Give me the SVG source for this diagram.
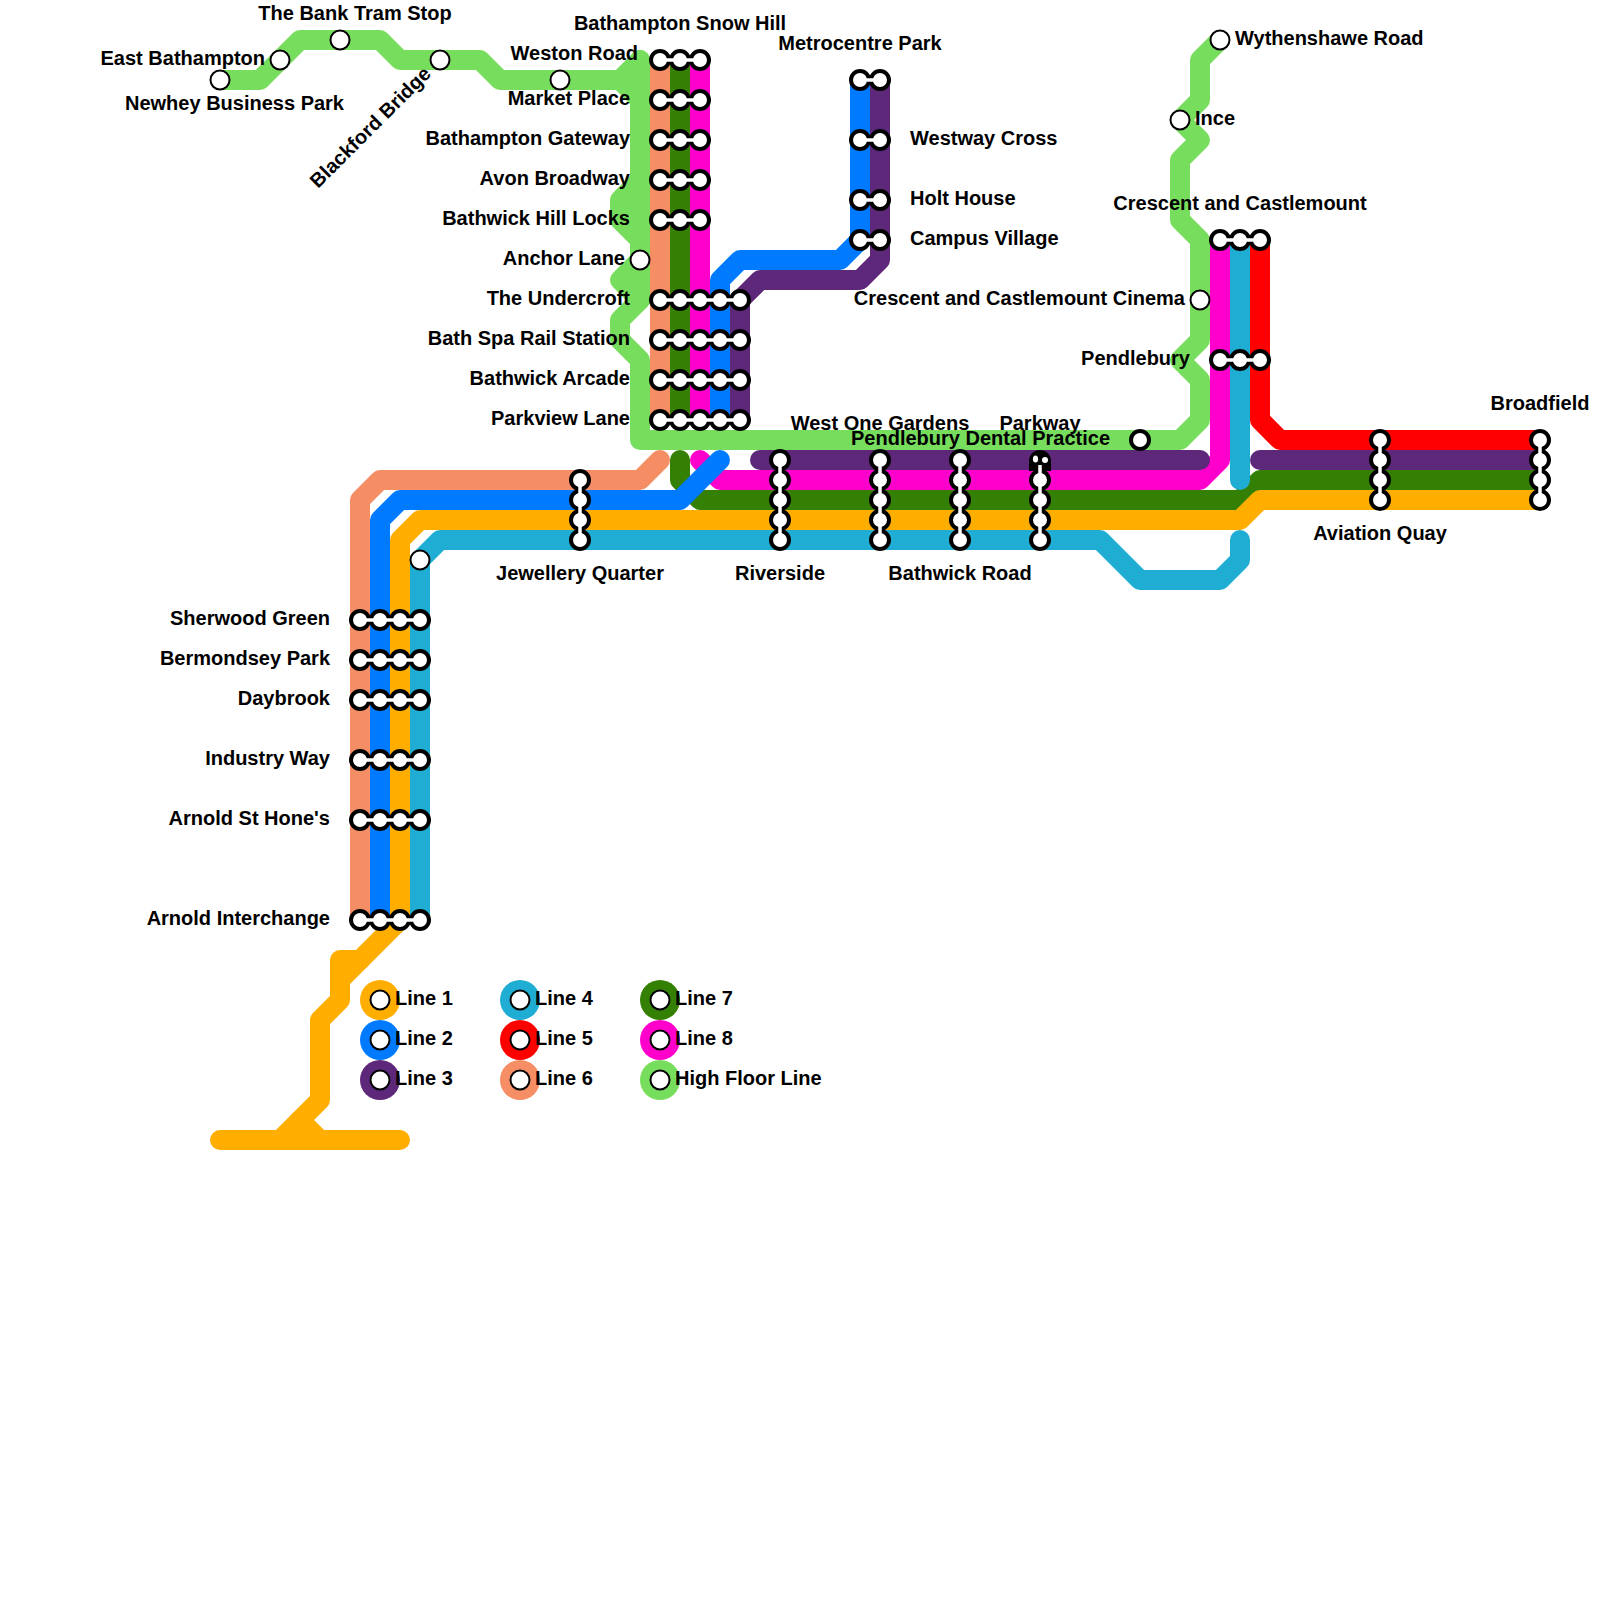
<svg xmlns="http://www.w3.org/2000/svg" width="1600" height="1600" viewBox="0 0 1600 1600">
<style>
text{font-family:"Liberation Sans",Arial,sans-serif;font-weight:700;font-size:20px;fill:#000}
.e{text-anchor:end}.m{text-anchor:middle}
.l{fill:none;stroke-width:20;stroke-linecap:round;stroke-linejoin:round}
.l1{stroke:#ffae00}.l2{stroke:#007aff}.l3{stroke:#5d277a}.l4{stroke:#1fadd3}.l5{stroke:#f00}.l6{stroke:#f58e64}.l7{stroke:#338005}.l8{stroke:#f0c}.hf{stroke:#77dd5d}
.s{fill:#fff;stroke:#000;stroke-width:2}
.sb{fill:#fff;stroke:#000;stroke-width:4}
.b{stroke:#000;stroke-width:8;fill:none}
.w{stroke:#fff;stroke-width:3.5;fill:none}
.o{fill:#000}.i{fill:#fff}
</style>
<rect width="1600" height="1600" fill="#fff"/>
<g id="connectors">
<path class="l l8" d="M700 60V420"/>
<path class="l l8" d="M700 460L720 480H1200L1220 460V240"/>
<path class="l l7" d="M680 60V420"/>
<path class="l l7" d="M680 460V480L700 500H1240L1260 480H1540"/>
<path class="l l6" d="M660 60V420"/>
<path class="l l6" d="M660 460L640 480H380L360 500V920"/>
<path class="l l5" d="M1260 240V420L1280 440H1540"/>
<path class="l l4" d="M1240 240V480"/>
<path class="l l4" d="M420 920V560L440 540H1100L1140 580H1220L1240 560V540"/>
<path class="l l3" d="M880 80V260L860 280H760L740 300V420"/>
<path class="l l3" d="M760 460H1200"/>
<path class="l l3" d="M1260 460H1540"/>
<path class="l l2" d="M860 80V240L840 260H740L720 280V420"/>
<path class="l l2" d="M720 460L680 500H400L380 520V920"/>
<path class="l l1" d="M1540 500H1260L1240 520H420L400 540V920L340 980"/>
<path class="l l1" d="M360 960H340V1000L320 1020V1100L280 1140"/>
<path class="l l1" d="M300 1120L320 1140"/>
<path class="l l1" d="M220 1140H400"/>
<path class="l hf" d="M220 80H260L300 40H380L400 60H480L500 80H620L640 60V180L620 200V220L640 240V260L620 280L640 300L620 320V340L640 360V440H1180L1200 420V380L1180 360L1200 340V240L1180 220V160L1200 140L1180 120L1200 100V60L1220 40"/>
<path class="l hf" d="M620 80L640 100"/>
<path class="l hf" d="M640 60V300"/>
</g>
<g id="legend">
<g id="legend-1"><circle cx="380" cy="1000" r="20" fill="#ffae00"/><circle cx="380" cy="1000" r="9.5" class="s"/><text x="395" y="1005">Line 1</text></g>
<g id="legend-2"><circle cx="380" cy="1040" r="20" fill="#007aff"/><circle cx="380" cy="1040" r="9.5" class="s"/><text x="395" y="1045">Line 2</text></g>
<g id="legend-3"><circle cx="380" cy="1080" r="20" fill="#5d277a"/><circle cx="380" cy="1080" r="9.5" class="s"/><text x="395" y="1085">Line 3</text></g>
<g id="legend-4"><circle cx="520" cy="1000" r="20" fill="#1fadd3"/><circle cx="520" cy="1000" r="9.5" class="s"/><text x="535" y="1005">Line 4</text></g>
<g id="legend-5"><circle cx="520" cy="1040" r="20" fill="#f00"/><circle cx="520" cy="1040" r="9.5" class="s"/><text x="535" y="1045">Line 5</text></g>
<g id="legend-6"><circle cx="520" cy="1080" r="20" fill="#f58e64"/><circle cx="520" cy="1080" r="9.5" class="s"/><text x="535" y="1085">Line 6</text></g>
<g id="legend-7"><circle cx="660" cy="1000" r="20" fill="#338005"/><circle cx="660" cy="1000" r="9.5" class="s"/><text x="675" y="1005">Line 7</text></g>
<g id="legend-8"><circle cx="660" cy="1040" r="20" fill="#f0c"/><circle cx="660" cy="1040" r="9.5" class="s"/><text x="675" y="1045">Line 8</text></g>
<g id="legend-hf"><circle cx="660" cy="1080" r="20" fill="#77dd5d"/><circle cx="660" cy="1080" r="9.5" class="s"/><text x="675" y="1085">High Floor Line</text></g>
</g>
<g id="n-newhey"><circle cx="220" cy="80" r="9.5" class="s"/><text x="344" y="110" class="e">Newhey Business Park</text></g>
<g id="n-east-bathampton"><circle cx="280" cy="60" r="9.5" class="s"/><text x="265" y="65" class="e">East Bathampton</text></g>
<g id="n-bank"><circle cx="340" cy="40" r="9.5" class="s"/><text x="355" y="20" class="m">The Bank Tram Stop</text></g>
<g id="n-blackford"><circle cx="440" cy="60" r="9.5" class="s"/><text x="432" y="75" class="e" transform="rotate(-45 432 75)">Blackford Bridge</text></g>
<g id="n-weston"><circle cx="560" cy="80" r="9.5" class="s"/><text x="638" y="60" class="e">Weston Road</text></g>
<g id="n-anchor"><circle cx="640" cy="260" r="9.5" class="s"/><text x="625" y="265" class="e">Anchor Lane</text></g>
<g id="n-cinema"><circle cx="1200" cy="300" r="9.5" class="s"/><text x="1185" y="305" class="e">Crescent and Castlemount Cinema</text></g>
<g id="n-wythenshawe"><circle cx="1220" cy="40" r="9.5" class="s"/><text x="1235" y="45">Wythenshawe Road</text></g>
<g id="n-ince"><circle cx="1180" cy="120" r="9.5" class="s"/><text x="1195" y="125">Ince</text></g>
<g id="n-unnamed"><circle cx="420" cy="560" r="9.5" class="s"/></g>
<g id="n-dental"><circle cx="1140" cy="440" r="9" class="sb"/><text x="1110" y="445" class="e">Pendlebury Dental Practice</text></g>

<g id="n-snow-hill"><path class="b" d="M660 60H700"/><circle cx="660" cy="60" r="9" class="sb"/><circle cx="680" cy="60" r="9" class="sb"/><circle cx="700" cy="60" r="9" class="sb"/><path class="w" d="M660 60H700"/><text x="680" y="30" class="m">Bathampton Snow Hill</text></g>
<g id="n-market"><path class="b" d="M660 100H700"/><circle cx="660" cy="100" r="9" class="sb"/><circle cx="680" cy="100" r="9" class="sb"/><circle cx="700" cy="100" r="9" class="sb"/><path class="w" d="M660 100H700"/><text x="630" y="105" class="e">Market Place</text></g>
<g id="n-gateway"><path class="b" d="M660 140H700"/><circle cx="660" cy="140" r="9" class="sb"/><circle cx="680" cy="140" r="9" class="sb"/><circle cx="700" cy="140" r="9" class="sb"/><path class="w" d="M660 140H700"/><text x="630" y="145" class="e">Bathampton Gateway</text></g>
<g id="n-avon"><path class="b" d="M660 180H700"/><circle cx="660" cy="180" r="9" class="sb"/><circle cx="680" cy="180" r="9" class="sb"/><circle cx="700" cy="180" r="9" class="sb"/><path class="w" d="M660 180H700"/><text x="630" y="185" class="e">Avon Broadway</text></g>
<g id="n-locks"><path class="b" d="M660 220H700"/><circle cx="660" cy="220" r="9" class="sb"/><circle cx="680" cy="220" r="9" class="sb"/><circle cx="700" cy="220" r="9" class="sb"/><path class="w" d="M660 220H700"/><text x="630" y="225" class="e">Bathwick Hill Locks</text></g>

<g id="n-undercroft"><path class="b" d="M660 300H740"/><circle cx="660" cy="300" r="9" class="sb"/><circle cx="680" cy="300" r="9" class="sb"/><circle cx="700" cy="300" r="9" class="sb"/><circle cx="720" cy="300" r="9" class="sb"/><circle cx="740" cy="300" r="9" class="sb"/><path class="w" d="M660 300H740"/><text x="630" y="305" class="e">The Undercroft</text></g>
<g id="n-bathspa"><path class="b" d="M660 340H740"/><circle cx="660" cy="340" r="9" class="sb"/><circle cx="680" cy="340" r="9" class="sb"/><circle cx="700" cy="340" r="9" class="sb"/><circle cx="720" cy="340" r="9" class="sb"/><circle cx="740" cy="340" r="9" class="sb"/><path class="w" d="M660 340H740"/><text x="630" y="345" class="e">Bath Spa Rail Station</text></g>
<g id="n-arcade"><path class="b" d="M660 380H740"/><circle cx="660" cy="380" r="9" class="sb"/><circle cx="680" cy="380" r="9" class="sb"/><circle cx="700" cy="380" r="9" class="sb"/><circle cx="720" cy="380" r="9" class="sb"/><circle cx="740" cy="380" r="9" class="sb"/><path class="w" d="M660 380H740"/><text x="630" y="385" class="e">Bathwick Arcade</text></g>
<g id="n-parkview"><path class="b" d="M660 420H740"/><circle cx="660" cy="420" r="9" class="sb"/><circle cx="680" cy="420" r="9" class="sb"/><circle cx="700" cy="420" r="9" class="sb"/><circle cx="720" cy="420" r="9" class="sb"/><circle cx="740" cy="420" r="9" class="sb"/><path class="w" d="M660 420H740"/><text x="630" y="425" class="e">Parkview Lane</text></g>

<g id="n-metrocentre"><path class="b" d="M860 80H880"/><circle cx="860" cy="80" r="9" class="sb"/><circle cx="880" cy="80" r="9" class="sb"/><path class="w" d="M860 80H880"/><text x="860" y="50" class="m">Metrocentre Park</text></g>
<g id="n-westway"><path class="b" d="M860 140H880"/><circle cx="860" cy="140" r="9" class="sb"/><circle cx="880" cy="140" r="9" class="sb"/><path class="w" d="M860 140H880"/><text x="910" y="145">Westway Cross</text></g>
<g id="n-holt"><path class="b" d="M860 200H880"/><circle cx="860" cy="200" r="9" class="sb"/><circle cx="880" cy="200" r="9" class="sb"/><path class="w" d="M860 200H880"/><text x="910" y="205">Holt House</text></g>
<g id="n-campus"><path class="b" d="M860 240H880"/><circle cx="860" cy="240" r="9" class="sb"/><circle cx="880" cy="240" r="9" class="sb"/><path class="w" d="M860 240H880"/><text x="910" y="245">Campus Village</text></g>

<g id="n-crescent"><path class="b" d="M1220 240H1260"/><circle cx="1220" cy="240" r="9" class="sb"/><circle cx="1240" cy="240" r="9" class="sb"/><circle cx="1260" cy="240" r="9" class="sb"/><path class="w" d="M1220 240H1260"/><text x="1240" y="210" class="m">Crescent and Castlemount</text></g>
<g id="n-pendlebury"><path class="b" d="M1220 360H1260"/><circle cx="1220" cy="360" r="9" class="sb"/><circle cx="1240" cy="360" r="9" class="sb"/><circle cx="1260" cy="360" r="9" class="sb"/><path class="w" d="M1220 360H1260"/><text x="1190" y="365" class="e">Pendlebury</text></g>

<g id="n-sherwood"><path class="b" d="M360 620H420"/><circle cx="360" cy="620" r="9" class="sb"/><circle cx="380" cy="620" r="9" class="sb"/><circle cx="400" cy="620" r="9" class="sb"/><circle cx="420" cy="620" r="9" class="sb"/><path class="w" d="M360 620H420"/><text x="330" y="625" class="e">Sherwood Green</text></g>
<g id="n-bermondsey"><path class="b" d="M360 660H420"/><circle cx="360" cy="660" r="9" class="sb"/><circle cx="380" cy="660" r="9" class="sb"/><circle cx="400" cy="660" r="9" class="sb"/><circle cx="420" cy="660" r="9" class="sb"/><path class="w" d="M360 660H420"/><text x="330" y="665" class="e">Bermondsey Park</text></g>
<g id="n-daybrook"><path class="b" d="M360 700H420"/><circle cx="360" cy="700" r="9" class="sb"/><circle cx="380" cy="700" r="9" class="sb"/><circle cx="400" cy="700" r="9" class="sb"/><circle cx="420" cy="700" r="9" class="sb"/><path class="w" d="M360 700H420"/><text x="330" y="705" class="e">Daybrook</text></g>
<g id="n-industry"><path class="b" d="M360 760H420"/><circle cx="360" cy="760" r="9" class="sb"/><circle cx="380" cy="760" r="9" class="sb"/><circle cx="400" cy="760" r="9" class="sb"/><circle cx="420" cy="760" r="9" class="sb"/><path class="w" d="M360 760H420"/><text x="330" y="765" class="e">Industry Way</text></g>
<g id="n-arnold-st"><path class="b" d="M360 820H420"/><circle cx="360" cy="820" r="9" class="sb"/><circle cx="380" cy="820" r="9" class="sb"/><circle cx="400" cy="820" r="9" class="sb"/><circle cx="420" cy="820" r="9" class="sb"/><path class="w" d="M360 820H420"/><text x="330" y="825" class="e">Arnold St Hone's</text></g>
<g id="n-arnold-int"><path class="b" d="M360 920H420"/><circle cx="360" cy="920" r="9" class="sb"/><circle cx="380" cy="920" r="9" class="sb"/><circle cx="400" cy="920" r="9" class="sb"/><circle cx="420" cy="920" r="9" class="sb"/><path class="w" d="M360 920H420"/><text x="330" y="925" class="e">Arnold Interchange</text></g>

<g id="n-jewellery"><path class="b" d="M580 480V540"/><circle cx="580" cy="480" r="9" class="sb"/><circle cx="580" cy="500" r="9" class="sb"/><circle cx="580" cy="520" r="9" class="sb"/><circle cx="580" cy="540" r="9" class="sb"/><path class="w" d="M580 480V540"/><text x="580" y="580" class="m">Jewellery Quarter</text></g>
<g id="n-riverside"><path class="b" d="M780 460V540"/><circle cx="780" cy="460" r="9" class="sb"/><circle cx="780" cy="480" r="9" class="sb"/><circle cx="780" cy="500" r="9" class="sb"/><circle cx="780" cy="520" r="9" class="sb"/><circle cx="780" cy="540" r="9" class="sb"/><path class="w" d="M780 460V540"/><text x="780" y="580" class="m">Riverside</text></g>
<g id="n-west-one"><path class="b" d="M880 460V540"/><circle cx="880" cy="460" r="9" class="sb"/><circle cx="880" cy="480" r="9" class="sb"/><circle cx="880" cy="500" r="9" class="sb"/><circle cx="880" cy="520" r="9" class="sb"/><circle cx="880" cy="540" r="9" class="sb"/><path class="w" d="M880 460V540"/><text x="880" y="430" class="m">West One Gardens</text></g>
<g id="n-bathwick-road"><path class="b" d="M960 460V540"/><circle cx="960" cy="460" r="9" class="sb"/><circle cx="960" cy="480" r="9" class="sb"/><circle cx="960" cy="500" r="9" class="sb"/><circle cx="960" cy="520" r="9" class="sb"/><circle cx="960" cy="540" r="9" class="sb"/><path class="w" d="M960 460V540"/><text x="960" y="580" class="m">Bathwick Road</text></g>
<g id="n-parkway"><path class="b" d="M1040 480V540"/><path class="o" d="M1029 471V461A11 11 0 0 1 1051 461V471Z"/><circle cx="1040" cy="480" r="9" class="sb"/><circle cx="1040" cy="500" r="9" class="sb"/><circle cx="1040" cy="520" r="9" class="sb"/><circle cx="1040" cy="540" r="9" class="sb"/><path class="w" d="M1040 465V540"/><ellipse cx="1035.500" cy="459" rx="2.600" ry="3.500" class="i"/><ellipse cx="1045" cy="460" rx="3" ry="3" class="i"/><text x="1040" y="430" class="m">Parkway</text></g>
<g id="n-aviation"><path class="b" d="M1380 440V500"/><circle cx="1380" cy="440" r="9" class="sb"/><circle cx="1380" cy="460" r="9" class="sb"/><circle cx="1380" cy="480" r="9" class="sb"/><circle cx="1380" cy="500" r="9" class="sb"/><path class="w" d="M1380 440V500"/><text x="1380" y="540" class="m">Aviation Quay</text></g>
<g id="n-broadfield"><path class="b" d="M1540 440V500"/><circle cx="1540" cy="440" r="9" class="sb"/><circle cx="1540" cy="460" r="9" class="sb"/><circle cx="1540" cy="480" r="9" class="sb"/><circle cx="1540" cy="500" r="9" class="sb"/><path class="w" d="M1540 440V500"/><text x="1540" y="410" class="m">Broadfield</text></g>
</svg>
